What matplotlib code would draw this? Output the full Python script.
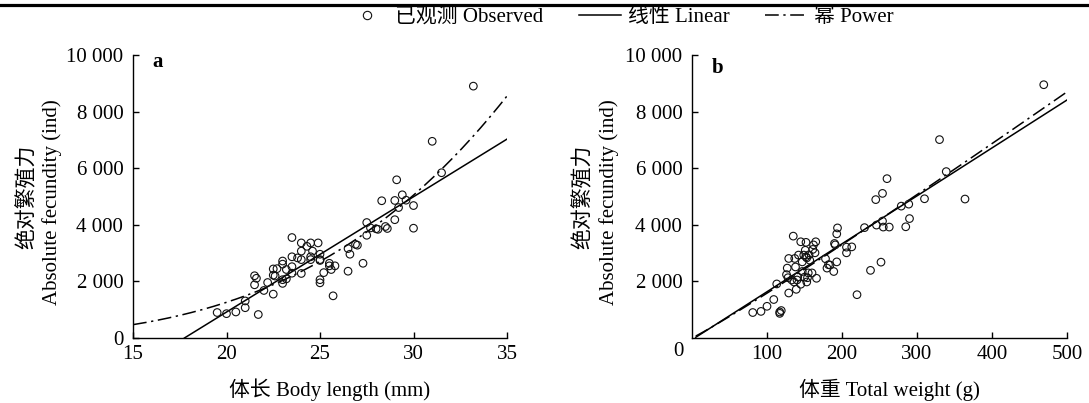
import numpy as np
import matplotlib
matplotlib.use("Agg")
import matplotlib.pyplot as plt
from matplotlib.lines import Line2D

plt.rcParams['font.family'] = ['Liberation Serif', 'Noto Sans CJK SC']
plt.rcParams['font.size'] = 15

# panel a: body length (mm) vs absolute fecundity
length_mm = [19.5, 20.0, 20.5, 21.0, 21.0, 21.5, 21.5, 21.6, 21.7, 22.0,
             22.2, 22.5, 22.5, 22.6, 22.5, 22.7, 23.0, 23.0, 23.0, 23.0,
             23.2, 23.2, 23.5, 23.5, 23.5, 23.5, 23.8, 24.0, 24.0, 24.0,
             24.0, 24.3, 24.5, 24.5, 24.5, 24.6, 24.9, 25.0, 25.0, 25.0,
             25.0, 25.0, 25.2, 25.5, 25.5, 25.6, 25.8, 25.7, 26.5, 26.5,
             26.6, 26.9, 27.0, 27.3, 27.5, 27.5, 27.7, 28.0, 28.1, 28.3,
             28.5, 28.6, 29.0, 29.0, 29.1, 29.2, 29.4, 29.6, 30.0, 30.0,
             31.0, 31.5, 33.2]
fec_a = [900, 860, 920, 1070, 1310, 1880, 2200, 2110, 830, 1680,
         1960, 1550, 2220, 2190, 2440, 2450, 1930, 2060, 2610, 2720,
         2090, 2420, 2290, 2520, 2870, 3550, 2830, 2280, 2770, 3070,
         3360, 3240, 3360, 2870, 2770, 3070, 3360, 2960, 2770, 2740,
         2060, 1950, 2310, 2640, 2550, 2420, 2550, 1490, 2360, 3160,
         2960, 3310, 3280, 2640, 4080, 3630, 3890, 3860, 3840, 4850,
         3940, 3870, 4180, 4860, 5590, 4610, 5060, 4870, 4680, 3880,
         6950, 5840, 8900]

# panel b: total weight (g) vs absolute fecundity
weight_g = [81, 92, 100, 109, 113, 117, 119, 117, 129, 127,
            129, 126, 128, 133, 135, 136, 138, 137, 139, 140,
            141, 142, 145, 145, 147, 147, 149, 150, 151, 152,
            152, 153, 153, 154, 155, 156, 157, 161, 162, 164,
            165, 166, 160, 178, 180, 182, 184, 189, 190, 191,
            193, 193, 194, 206, 206, 213, 220, 230, 238, 245,
            246, 252, 254, 254, 255, 260, 263, 279, 285, 289,
            290, 310, 330, 339, 364, 469]
fec_b = [900, 940, 1120, 1360, 1910, 870, 970, 920, 1590, 2470,
         2810, 2240, 2130, 2050, 3600, 1980, 2510, 2810, 1720, 2050,
         2160, 2930, 3400, 1900, 2350, 2690, 2930, 2150, 3100, 3380,
         2870, 2830, 1980, 2130, 2300, 2940, 2750, 3130, 3290, 3010,
         3400, 2110, 2300, 2800, 2470, 2590, 2580, 2350, 3340, 3290,
         3680, 2690, 3890, 3010, 3210, 3220, 1530, 3900, 2390, 4890,
         3990, 2680, 5110, 4130, 3920, 5630, 3920, 4660, 3930, 4730,
         4220, 4920, 7010, 5880, 4910, 8950]

# fitted models: linear y = k*x + c, power y = a*x^b
lin_a = (407.4, -7231.0)
pow_a = (0.0448, 3.42)
lin_b = (16.94, -60.0)
pow_b = (12.13, 1.058)

x_ticks_a = [15, 20, 25, 30, 35]
x_ticks_b = [100, 200, 300, 400, 500]
y_ticks = [0, 2000, 4000, 6000, 8000, 10000]


def fmt(v):
    return f"{int(v):,}".replace(",", " ")


fig = plt.figure(figsize=(10.89, 4.03), dpi=100)
W, H = 1089, 403
ax_a = fig.add_axes([133 / W, 1 - 338 / H, 374 / W, 283 / H])
ax_b = fig.add_axes([692 / W, 1 - 338 / H, 375 / W, 283 / H])

dash_dot = (0, (9, 3, 1.5, 3))

for ax in (ax_a, ax_b):
    for s in ('top', 'right'):
        ax.spines[s].set_visible(False)
    for s in ('left', 'bottom'):
        ax.spines[s].set_linewidth(1.0)
    ax.tick_params(direction='in', length=4, width=1.0)
    ax.tick_params(axis='y', pad=7)
    ax.tick_params(axis='x', pad=5)
    ax.set_ylim(0, 10000)

# panel a
ax_a.scatter(length_mm, fec_a, s=30, facecolors='none', edgecolors='#111111',
             linewidths=0.8, zorder=3)
xa_lin = np.linspace(-lin_a[1] / lin_a[0], 35, 100)
ax_a.plot(xa_lin, lin_a[0] * xa_lin + lin_a[1], color='black', lw=1.1)
xa_pow = np.linspace(15, 35, 200)
ax_a.plot(xa_pow, pow_a[0] * xa_pow ** pow_a[1], color='black', lw=1.1,
          linestyle=dash_dot)
ax_a.set_xlim(15, 35)
ax_a.set_xticks(x_ticks_a)
ax_a.set_yticks(y_ticks)
ax_a.set_yticklabels([fmt(v) for v in y_ticks])
ax_a.text(0.051, 0.958, 'a', transform=ax_a.transAxes, fontweight='bold',
          fontsize=15, va='baseline')

# panel b
ax_b.scatter(weight_g, fec_b, s=30, facecolors='none', edgecolors='#111111',
             linewidths=0.8, zorder=3)
xb = np.linspace(5, 500, 200)
ax_b.plot(xb, lin_b[0] * xb + lin_b[1], color='black', lw=1.1)
ax_b.plot(xb, pow_b[0] * xb ** pow_b[1], color='black', lw=1.1,
          linestyle=dash_dot)
ax_b.set_xlim(0, 500)
ax_b.set_xticks(x_ticks_b)
ax_b.set_yticks(y_ticks[1:])
ax_b.set_yticklabels([fmt(v) for v in y_ticks[1:]])
ax_b.text(-14 / 375, -14 / 283, '0', transform=ax_b.transAxes,
          ha='center', va='center')
ax_b.text(0.053, 0.936, 'b', transform=ax_b.transAxes, fontweight='bold',
          fontsize=15, va='baseline')

# axis labels (Chinese line and English line of the y label drawn separately)
for ax, xlab, width, cx_cn, cx_en in ((ax_a, '体长 Body length (mm)', 374, -106, -81),
                                      (ax_b, '体重 Total weight (g)', 375, -109, -83)):
    ax.text(cx_cn / width, 0.498, '绝对繁殖力', transform=ax.transAxes,
            rotation=90, ha='center', va='center')
    ax.text(cx_en / width, 0.48, 'Absolute fecundity (ind)', transform=ax.transAxes,
            rotation=90, ha='center', va='center')
    ax.text(0.5 + 10 / width, -52 / 283, xlab, transform=ax.transAxes,
            ha='center', va='center')

# rule across the top
fig.add_artist(Line2D([0, 1], [1 - 4.5 / H, 1 - 4.5 / H], color='black',
                      lw=2.3, transform=fig.transFigure))

handles = [
    Line2D([], [], linestyle='none', marker='o', markersize=6,
           markerfacecolor='none', markeredgecolor='#111111', markeredgewidth=0.8),
    Line2D([], [], color='black', lw=1.1),
    Line2D([], [], color='black', lw=1.1, linestyle=dash_dot),
]
labels = ['已观测 Observed', '线性 Linear', '幂 Power']
fig.legend(handles, labels, loc='center', bbox_to_anchor=(620 / W, 1 - 17 / H),
           ncol=3, frameon=False, handlelength=2.0, handletextpad=0.35,
           columnspacing=1.7, borderaxespad=0, borderpad=0)

fig.savefig('out.png', dpi=100)
